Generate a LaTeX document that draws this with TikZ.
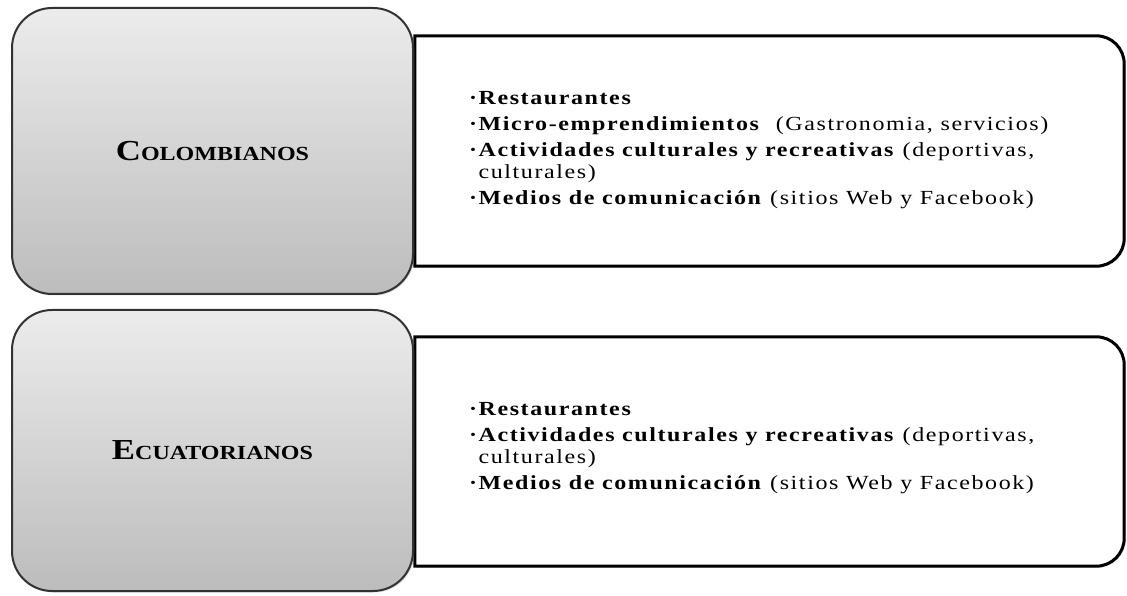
\documentclass[tikz,border=0pt]{standalone}
\usepackage{fontspec}
\setmainfont[FakeStretch=1.2]{Liberation Serif}
\newfontfamily\itemfont[FakeStretch=1.2, LetterSpace=8]{Liberation Serif}
\usetikzlibrary{calc,shadows,positioning}

\definecolor{boxtop}{RGB}{236,236,236}
\definecolor{boxbottom}{RGB}{188,188,188}
\definecolor{boxline}{RGB}{50,50,50}

\tikzset{
  groupbox/.style={rectangle, rounded corners=40pt, draw=boxline, line width=2pt,
    top color=boxtop, bottom color=boxbottom, minimum width=401pt, inner sep=0pt,
    font=\bfseries, drop shadow={shadow xshift=1.5pt, shadow yshift=-1.5pt, opacity=0.25}},
  listbox/.style={rectangle, minimum width=709pt, inner sep=0pt},
  listborder/.style={draw=black, line width=3pt, fill=white,
    drop shadow={shadow xshift=1.5pt, shadow yshift=-1.5pt, opacity=0.25}},
  itemtext/.style={align=left, inner sep=0pt, anchor=north west,
    font=\itemfont\fontsize{20}{22}\selectfont},
}
\newcommand\capname[2]{{\fontsize{29}{30}\selectfont #1}{\fontsize{20}{22}\selectfont #2}}
\newcommand\dotitem{\textbf{·}}

\begin{document}
\begin{tikzpicture}[x=1pt,y=1pt]
  \useasboundingbox (0,0) rectangle (1127,595);

  % Colombianos
  \node[listbox, minimum height=230pt] (colright) at (769.5,444) {};
  \draw[listborder] (colright.south west) -- (colright.north west)
    -- ([xshift=-28pt]colright.north east) arc[start angle=90, end angle=0, radius=28pt]
    -- ([yshift=28pt]colright.south east) arc[start angle=0, end angle=-90, radius=28pt]
    -- cycle;
  \node[groupbox, minimum height=286pt] (colgroup) at (212.5,444) {\capname{C}{OLOMBIANOS}};
  \node[itemtext] (colitems) at ($(colright.north west)+(54,-55)$)
    {\dotitem\textbf{Restaurantes}\\[4pt]
     \dotitem\textbf{Micro-emprendimientos} \ (Gastronomia, servicios)\\[4pt]
     \dotitem\textbf{Actividades culturales y recreativas} (deportivas,\\
     \hphantom{\dotitem}culturales)\\[4pt]
     \dotitem\textbf{Medios de comunicación} (sitios Web y Facebook)};

  % Ecuatorianos
  \node[listbox, minimum height=229pt] (ecuright) at (769.5,143.5) {};
  \draw[listborder] (ecuright.south west) -- (ecuright.north west)
    -- ([xshift=-28pt]ecuright.north east) arc[start angle=90, end angle=0, radius=28pt]
    -- ([yshift=28pt]ecuright.south east) arc[start angle=0, end angle=-90, radius=28pt]
    -- cycle;
  \node[groupbox, minimum height=281pt] (ecugroup) at (212.5,144.5) {\capname{E}{CUATORIANOS}};
  \node[itemtext] (ecuitems) at ($(ecuright.north west)+(54,-65)$)
    {\dotitem\textbf{Restaurantes}\\[4pt]
     \dotitem\textbf{Actividades culturales y recreativas} (deportivas,\\
     \hphantom{\dotitem}culturales)\\[4pt]
     \dotitem\textbf{Medios de comunicación} (sitios Web y Facebook)};
\end{tikzpicture}
\end{document}
